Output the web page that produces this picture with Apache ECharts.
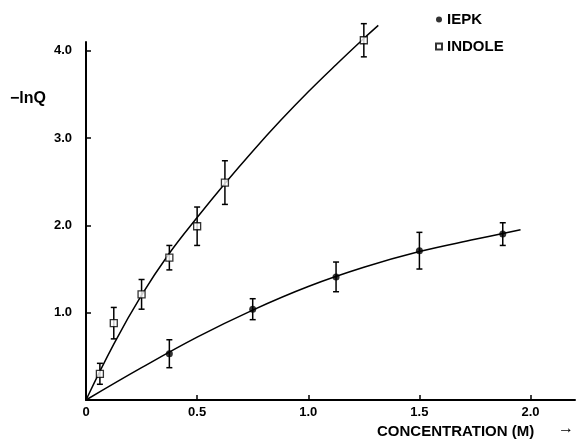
<!DOCTYPE html>
<html>
<head>
<meta charset="utf-8">
<script src="https://cdn.jsdelivr.net/npm/echarts@6/dist/echarts.min.js"></script>
<style>
  html, body { margin: 0; padding: 0; background: #fff; }
  #chart { width: 576px; height: 440px; }
</style>
</head>
<body>
<div id="chart"></div>
<script>
// measured points
const iepkX = [0.375, 0.75, 1.125, 1.5, 1.875];
const iepkY = [0.53, 1.04, 1.41, 1.71, 1.90];
const iepkErr = [0.16, 0.12, 0.17, 0.21, 0.13];

const indoleX = [0.0625, 0.125, 0.25, 0.375, 0.5, 0.625, 1.25];
const indoleY = [0.30, 0.88, 1.21, 1.63, 1.99, 2.49, 4.12];
const indoleErr = [0.12, 0.18, 0.17, 0.14, 0.22, 0.25, 0.19];

// fitted curves
const iepkFitX = [0, 0.25, 0.5, 0.75, 1.0, 1.25, 1.5, 1.75, 1.955];
const iepkFitY = [0, 0.37, 0.72, 1.03, 1.30, 1.52, 1.70, 1.84, 1.95];
const indoleFitX = [0, 0.125, 0.25, 0.375, 0.5, 0.625, 0.75, 0.875, 1.0, 1.125, 1.25, 1.315];
const indoleFitY = [0, 0.64, 1.20, 1.68, 2.09, 2.48, 2.85, 3.20, 3.53, 3.84, 4.14, 4.29];

const xTicks = [0, 0.5, 1.0, 1.5, 2.0];
const yTicks = [1.0, 2.0, 3.0, 4.0];

const font = 'Liberation Sans';

const zip = (xs, ys) => xs.map((x, i) => [x, ys[i]]);
const errData = (xs, ys, es) => xs.map((x, i) => [x, ys[i] - es[i], ys[i] + es[i]]);

function renderErr(params, api) {
    const top = api.coord([api.value(0), api.value(2)]);
    const bot = api.coord([api.value(0), api.value(1)]);
    const w = 3;
    const st = { stroke: '#000', lineWidth: 1.5 };
    return {
        type: 'group',
        children: [
            { type: 'line', shape: { x1: top[0], y1: top[1], x2: bot[0], y2: bot[1] }, style: st },
            { type: 'line', shape: { x1: top[0] - w, y1: top[1], x2: top[0] + w, y2: top[1] }, style: st },
            { type: 'line', shape: { x1: bot[0] - w, y1: bot[1], x2: bot[0] + w, y2: bot[1] }, style: st }
        ]
    };
}

let chart = echarts.init(document.getElementById('chart'));
let option = {
    animation: false,
    backgroundColor: '#fff',
    grid: { left: 86, right: 1, top: 42, bottom: 40, containLabel: false },
    legend: {
        orient: 'vertical',
        left: 430,
        top: 7,
        itemWidth: 6,
        itemHeight: 6,
        itemGap: 12,
        data: [{ name: 'IEPK', icon: 'circle' }, { name: 'INDOLE', icon: 'rect' }],
        textStyle: { fontFamily: font, fontWeight: 'bold', fontSize: 15, color: '#000' }
    },
    xAxis: {
        type: 'value', min: 0, max: 2.2, interval: 0.5,
        splitLine: { show: false },
        axisLine: { lineStyle: { color: '#000', width: 2 } },
        axisTick: { inside: true, length: 5, lineStyle: { color: '#000', width: 1.5 } },
        axisLabel: {
            color: '#000', fontFamily: font, fontWeight: 'bold', fontSize: 13, margin: 6,
            showMaxLabel: false,
            formatter: v => xTicks.includes(v) ? (v === 0 ? '0' : v.toFixed(1)) : ''
        }
    },
    yAxis: {
        type: 'value', min: 0, max: 4.1, interval: 1,
        splitLine: { show: false },
        axisLine: { lineStyle: { color: '#000', width: 2 } },
        axisTick: { inside: true, length: 5, lineStyle: { color: '#000', width: 1.5 } },
        axisLabel: {
            color: '#000', fontFamily: font, fontWeight: 'bold', fontSize: 13, margin: 14,
            showMaxLabel: false,
            formatter: v => yTicks.includes(v) ? v.toFixed(1) : ''
        }
    },
    graphic: [
        { type: 'text', left: 10, top: 91, style: { text: '\u2212lnQ', font: 'bold 16px "Liberation Sans"', fill: '#000' } },
        { type: 'text', left: 377, top: 424, style: { text: 'CONCENTRATION (M)', font: 'bold 15px "Liberation Sans"', fill: '#000' } },
        { type: 'text', left: 558, top: 421, style: { text: '\u2192', font: 'bold 16px "Liberation Sans"', fill: '#000' } }
    ],
    series: [
        {
            name: 'IEPK fit', type: 'line', data: zip(iepkFitX, iepkFitY), smooth: 0.4,
            showSymbol: false, clip: false, lineStyle: { color: '#000', width: 1.5 }, z: 2
        },
        {
            name: 'INDOLE fit', type: 'line', data: zip(indoleFitX, indoleFitY), smooth: 0.4,
            showSymbol: false, clip: false, lineStyle: { color: '#000', width: 1.5 }, z: 2
        },
        { name: 'IEPK err', type: 'custom', renderItem: renderErr, clip: false, data: errData(iepkX, iepkY, iepkErr), z: 3 },
        { name: 'INDOLE err', type: 'custom', renderItem: renderErr, clip: false, data: errData(indoleX, indoleY, indoleErr), z: 3 },
        {
            name: 'IEPK', type: 'scatter', data: zip(iepkX, iepkY), symbol: 'circle', symbolSize: 7,
            clip: false, itemStyle: { color: '#000' }, z: 4
        },
        {
            name: 'INDOLE', type: 'scatter', data: zip(indoleX, indoleY), symbol: 'rect', symbolSize: 7,
            clip: false, itemStyle: { color: '#fff', borderColor: '#000', borderWidth: 1.3 }, z: 4
        }
    ]
};
chart.setOption(option);
window.addEventListener('resize', () => {
    chart.resize()
})
</script>
</body>
</html>
